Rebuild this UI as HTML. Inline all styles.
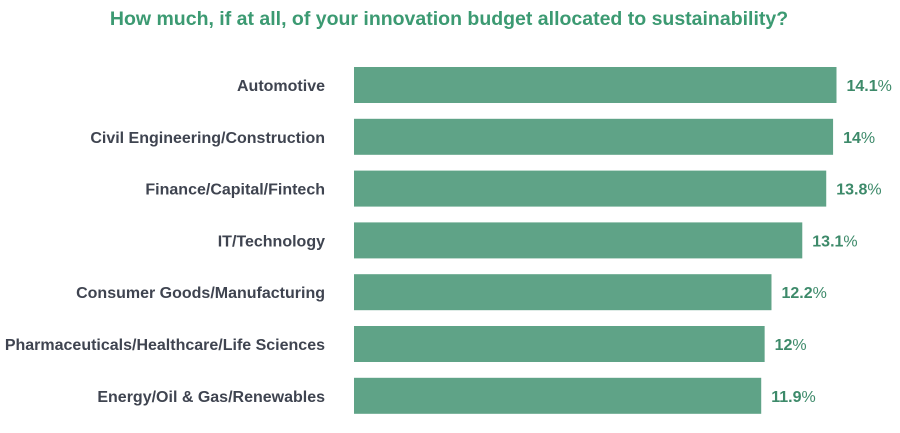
<!DOCTYPE html>
<html><head><meta charset="utf-8"><style>
body{margin:0;background:#fff;width:900px;height:428px;overflow:hidden;font-family:"Liberation Sans",sans-serif}
</style></head><body>
<svg width="900" height="428">
<text x="449" y="25" text-anchor="middle" font-size="19.5" font-weight="bold" fill="#3c9a72">How much, if at all, of your innovation budget allocated to sustainability?</text>
<g id="bars"></g>
</svg>
<script>
const categories=["Automotive","Civil Engineering/Construction","Finance/Capital/Fintech","IT/Technology","Consumer Goods/Manufacturing","Pharmaceuticals/Healthcare/Life Sciences","Energy/Oil & Gas/Renewables"];
const values=[14.1,14,13.8,13.1,12.2,12,11.9];
const labels=["14.1","14","13.8","13.1","12.2","12","11.9"];
const x0=354, pxPer=(836.5-354)/14.1;
const xs=v=>x0+v*pxPer;
const yTop=i=>67+i*51.8;
const g=document.getElementById('bars');
const NS="http://www.w3.org/2000/svg";
categories.forEach((c,i)=>{
  const r=document.createElementNS(NS,'rect');
  
  
  r.setAttribute('x',x0);r.setAttribute('y',yTop(i));
  r.setAttribute('width',xs(values[i])-x0);r.setAttribute('height',36);
  r.setAttribute('fill','#5fa387');
  g.appendChild(r);
  const t=document.createElementNS(NS,'text');
  
  
  t.setAttribute('x',325);t.setAttribute('y',yTop(i)+24);
  t.setAttribute('text-anchor','end');t.setAttribute('font-size','16');
  t.setAttribute('font-weight','bold');t.setAttribute('fill','#3f4450');
  t.textContent=c;g.appendChild(t);
  const v=document.createElementNS(NS,'text');
  
  
  v.setAttribute('x',xs(values[i])+10);v.setAttribute('y',yTop(i)+24);
  v.setAttribute('font-size','16');v.setAttribute('fill','#3d8a6a');
  const b=document.createElementNS(NS,'tspan');b.setAttribute('font-weight','bold');b.textContent=labels[i];
  const p=document.createElementNS(NS,'tspan');p.textContent='%';
  v.appendChild(b);v.appendChild(p);g.appendChild(v);
});
</script>
</body></html>
